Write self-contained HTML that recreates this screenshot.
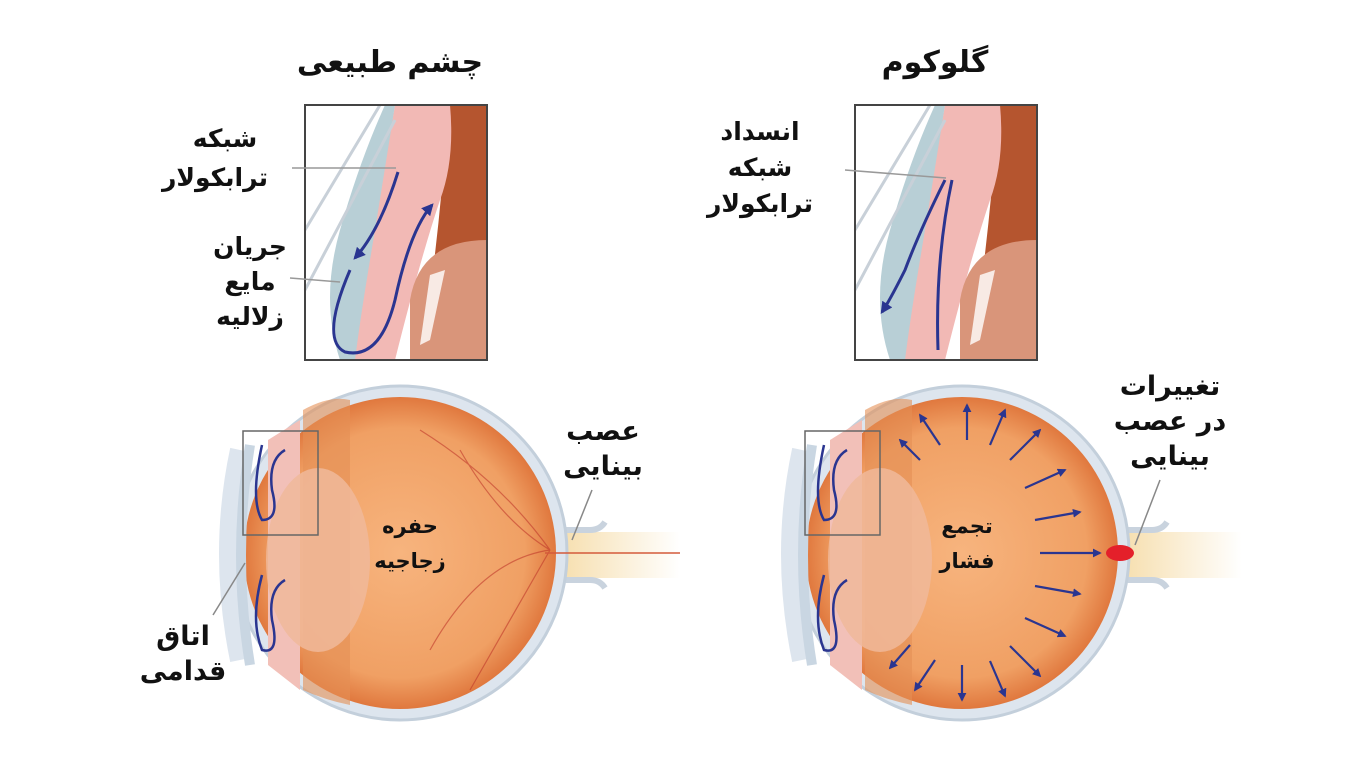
<!DOCTYPE html>
<html><head><meta charset="utf-8"><style>
html,body{margin:0;padding:0;background:#fff;}
svg{display:block}
text{font-family:"DejaVu Sans","Liberation Sans",sans-serif;font-weight:bold;fill:#111;text-anchor:middle}
</style></head><body>
<svg width="1366" height="767" viewBox="0 0 1366 767" xmlns="http://www.w3.org/2000/svg">
<defs>
<radialGradient id="og" cx="0.5" cy="0.5" r="0.5">
<stop offset="0" stop-color="#f7b47e"/><stop offset="0.8" stop-color="#f0a064"/><stop offset="1" stop-color="#e0783e"/>
</radialGradient>
<linearGradient id="nv" x1="0" x2="1"><stop offset="0" stop-color="#f5d9a0"/><stop offset="1" stop-color="#fff"/></linearGradient>
<marker id="ah" viewBox="0 0 10 10" refX="8" refY="5" markerWidth="4" markerHeight="4" orient="auto"><path d="M0,0L10,5L0,10z" fill="#2a3590"/></marker>
<g id="eye">
  <path d="M540,532 L680,532 L680,578 L540,578 Z" fill="url(#nv)"/>
  <path d="M540,530 L590,530 Q600,530 605,522 M540,580 L590,580 Q600,580 605,588" stroke="#c9d3de" stroke-width="6" fill="none"/>
  <circle cx="400" cy="553" r="167" fill="#dde5ee" stroke="#c3cfdb" stroke-width="3"/>
  <path d="M240,450 Q218,553 240,660" stroke="#dde5ee" stroke-width="20" fill="none"/>
  <circle cx="400" cy="553" r="156" fill="url(#og)"/>
  <path d="M303,410 Q330,395 350,400 L350,705 Q325,700 303,690 Z" fill="#e58f55" opacity="0.6"/>
  <path d="M268,440 L300,420 L300,690 L268,665 Z" fill="#f2c0b8"/>
  <ellipse cx="318" cy="560" rx="52" ry="92" fill="#f0b89a" opacity="0.85"/>
  <path d="M250,445 Q232,555 250,665" stroke="#c9d6e2" stroke-width="10" fill="none"/>
</g>
</defs>

<text x="390" y="72" font-size="30">چشم طبیعی</text>
<text x="935" y="72" font-size="30">گلوکوم</text>

<use href="#eye"/>
<g stroke="#c0392b" stroke-width="1.2" fill="none" opacity="0.6">
<path d="M550,550 Q500,520 460,450 M550,550 Q480,560 430,650 M550,550 Q500,480 420,430 M550,550 Q510,620 470,690"/>
</g>
<path d="M545,553 L680,553" stroke="#d45a3a" stroke-width="1.5"/>
<path d="M262,445 Q250,500 262,520 Q280,520 272,490 Q268,460 285,450" stroke="#2a3590" stroke-width="2.5" fill="none"/>
<path d="M262,575 Q250,620 262,650 Q280,655 272,620 Q268,590 285,580" stroke="#2a3590" stroke-width="2.5" fill="none"/>
<rect x="243" y="431" width="75" height="104" fill="none" stroke="#666" stroke-width="1.5"/>
<text x="410" y="533" font-size="21">حفره</text>
<text x="410" y="568" font-size="21">زجاجیه</text>
<text x="603" y="440" font-size="27">عصب</text>
<text x="603" y="475" font-size="27">بینایی</text>
<line x1="592" y1="490" x2="572" y2="540" stroke="#888" stroke-width="1.5"/>
<text x="183" y="645" font-size="27">اتاق</text>
<text x="183" y="680" font-size="27">قدامی</text>
<line x1="213" y1="615" x2="245" y2="563" stroke="#888" stroke-width="1.5"/>

<use href="#eye" transform="translate(562,0)"/>
<ellipse cx="1120" cy="553" rx="14" ry="8" fill="#e4202a"/>
<g stroke="#2a3590" stroke-width="2.2" marker-end="url(#ah)">
<line x1="1040" y1="553" x2="1100" y2="553"/>
<line x1="1035" y1="520" x2="1080" y2="512"/>
<line x1="1035" y1="586" x2="1080" y2="594"/>
<line x1="1025" y1="488" x2="1065" y2="470"/>
<line x1="1025" y1="618" x2="1065" y2="636"/>
<line x1="1010" y1="460" x2="1040" y2="430"/>
<line x1="1010" y1="646" x2="1040" y2="676"/>
<line x1="990" y1="445" x2="1005" y2="410"/>
<line x1="990" y1="661" x2="1005" y2="696"/>
<line x1="967" y1="440" x2="967" y2="405"/>
<line x1="962" y1="665" x2="962" y2="700"/>
<line x1="940" y1="445" x2="920" y2="415"/>
<line x1="935" y1="660" x2="915" y2="690"/>
<line x1="920" y1="460" x2="900" y2="440"/>
<line x1="910" y1="645" x2="890" y2="668"/>
</g>
<path d="M824,445 Q812,500 824,520 Q842,520 834,490 Q830,460 847,450" stroke="#2a3590" stroke-width="2.5" fill="none"/>
<path d="M824,575 Q812,620 824,650 Q842,655 834,620 Q830,590 847,580" stroke="#2a3590" stroke-width="2.5" fill="none"/>
<rect x="805" y="431" width="75" height="104" fill="none" stroke="#666" stroke-width="1.5"/>
<text x="967" y="533" font-size="21">تجمع</text>
<text x="967" y="568" font-size="21">فشار</text>
<text x="1170" y="395" font-size="27">تغییرات</text>
<text x="1170" y="430" font-size="27">در عصب</text>
<text x="1170" y="465" font-size="27">بینایی</text>
<line x1="1160" y1="480" x2="1135" y2="545" stroke="#888" stroke-width="1.5"/>

<g id="inset">
<rect x="305" y="105" width="182" height="255" fill="#fff"/>
<path d="M448,105 L487,105 L487,360 L420,360 Q440,240 448,105 Z" fill="#b5552f"/>
<path d="M395,105 L450,105 Q455,160 440,200 Q420,260 395,360 L350,360 Z" fill="#f2b9b5"/>
<path d="M385,105 L395,105 Q380,200 370,260 Q360,320 355,360 L340,360 Q320,300 340,230 Q360,160 385,105 Z" fill="#b8cfd6"/>
<path d="M305,230 L380,105 M305,290 L395,120" stroke="#c8d0d8" stroke-width="3"/>
<path d="M487,240 Q420,240 410,300 L410,360 L487,360 Z" fill="#d9957a"/>
<path d="M430,275 L445,270 L430,340 L420,345 Z" fill="#fff" opacity="0.8"/>
</g>
<rect x="305" y="105" width="182" height="255" fill="none" stroke="#444" stroke-width="2"/>
<path d="M350,270 Q320,340 345,352 Q380,360 395,300 Q410,230 432,205" stroke="#2a3590" stroke-width="3" fill="none" marker-end="url(#ah)"/>
<path d="M398,172 Q380,230 355,258" stroke="#2a3590" stroke-width="3" fill="none" marker-end="url(#ah)"/>
<line x1="292" y1="168" x2="396" y2="168" stroke="#999" stroke-width="1.5"/>
<line x1="290" y1="278" x2="340" y2="282" stroke="#999" stroke-width="1.5"/>
<text x="225" y="147" font-size="25">شبکه</text>
<text x="215" y="186" font-size="25">ترابکولار</text>
<text x="250" y="255" font-size="25">جریان</text>
<text x="250" y="290" font-size="25">مایع</text>
<text x="250" y="325" font-size="25">زلالیه</text>

<use href="#inset" transform="translate(550,0)"/>
<rect x="855" y="105" width="182" height="255" fill="none" stroke="#444" stroke-width="2"/>
<path d="M945,180 Q920,230 905,270 Q890,300 882,312" stroke="#2a3590" stroke-width="3" fill="none" marker-end="url(#ah)"/>
<path d="M952,180 Q935,260 938,350" stroke="#2a3590" stroke-width="3" fill="none"/>
<line x1="845" y1="170" x2="946" y2="178" stroke="#999" stroke-width="1.5"/>
<text x="760" y="140" font-size="25">انسداد</text>
<text x="760" y="176" font-size="25">شبکه</text>
<text x="760" y="212" font-size="25">ترابکولار</text>
</svg>
</body></html>
